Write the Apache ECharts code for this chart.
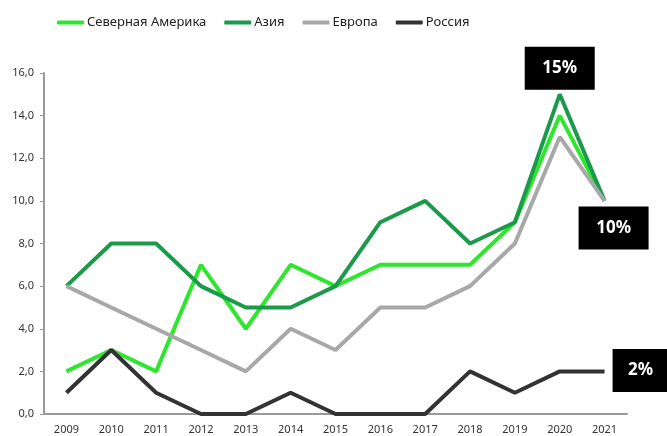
<!DOCTYPE html>
<html>
<head>
<meta charset="utf-8">
<script src="https://cdn.jsdelivr.net/npm/echarts@6/dist/echarts.min.js"></script>
<style>
  html, body { margin: 0; padding: 0; background: #fff; }
  #chart { width: 667px; height: 436px; }
</style>
</head>
<body>
<div id="chart"></div>
<script>
const years = ['2009', '2010', '2011', '2012', '2013', '2014', '2015', '2016', '2017', '2018', '2019', '2020', '2021'];
const northAmerica = [2, 3, 2, 7, 4, 7, 6, 7, 7, 7, 9, 14, 10];
const asia = [6, 8, 8, 6, 5, 5, 6, 9, 10, 8, 9, 15, 10];
const europe = [6, 5, 4, 3, 2, 4, 3, 5, 5, 6, 8, 13, 10];
const russia = [1, 3, 1, 0, 0, 1, 0, 0, 0, 2, 1, 2, 2];
const yTicks = [0, 2, 4, 6, 8, 10, 12, 14, 16];

const font = '"Noto Sans", sans-serif';

// чёрные плашки с подписями
function tag(text, coord, offset, size) {
  return {
    symbol: 'rect',
    symbolSize: size,
    symbolOffset: offset,
    coord: coord,
    itemStyle: { color: '#000' },
    label: {
      show: true,
      position: 'inside',
      formatter: text,
      color: '#fff',
      fontSize: 17,
      fontWeight: 'bold',
      fontFamily: font
    }
  };
}

function line(name, data, color, marks) {
  return {
    name: name,
    type: 'line',
    data: data,
    symbol: 'none',
    lineStyle: { width: 4, color: color },
    itemStyle: { color: color },
    markPoint: marks ? { data: marks, silent: true, animation: false } : undefined
  };
}

const chart = echarts.init(document.getElementById('chart'));
chart.setOption({
  animation: false,
  legend: {
    top: 11,
    left: 52,
    itemWidth: 27,
    itemHeight: 4,
    itemGap: 18,
    icon: 'roundRect',
    textStyle: { fontSize: 13, color: '#222', fontFamily: font, padding: [0, 0, 0, -2] }
  },
  grid: { left: 44, right: 40, top: 73, bottom: 22 },
  xAxis: {
    type: 'category',
    data: years,
    axisLine: { lineStyle: { color: '#999', width: 2 } },
    axisTick: { lineStyle: { color: '#999' }, length: 4 },
    axisLabel: { color: '#333', fontSize: 11, fontFamily: font, margin: 10 }
  },
  yAxis: {
    type: 'value',
    min: yTicks[0],
    max: yTicks[yTicks.length - 1],
    interval: 2,
    splitLine: { show: false },
    axisLine: { show: true, lineStyle: { color: '#999', width: 2 } },
    axisTick: { show: true, lineStyle: { color: '#999' }, length: 4 },
    axisLabel: {
      color: '#333', fontSize: 11, fontFamily: font, margin: 10,
      formatter: v => v.toFixed(1).replace('.', ',')
    }
  },
  series: [
    line('Северная Америка', northAmerica, '#2ee62e'),
    line('Азия', asia, '#1a9a4a', [
      tag('15%', ['2020', 15], [0, -26], [70, 43]),
      tag('10%', ['2021', 10], [9, 27], [70, 43])
    ]),
    line('Европа', europe, '#a8a8a8'),
    line('Россия', russia, '#333333', [
      tag('2%', ['2021', 2], [36, -1], [56, 43])
    ])
  ]
});
</script>
</body>
</html>
